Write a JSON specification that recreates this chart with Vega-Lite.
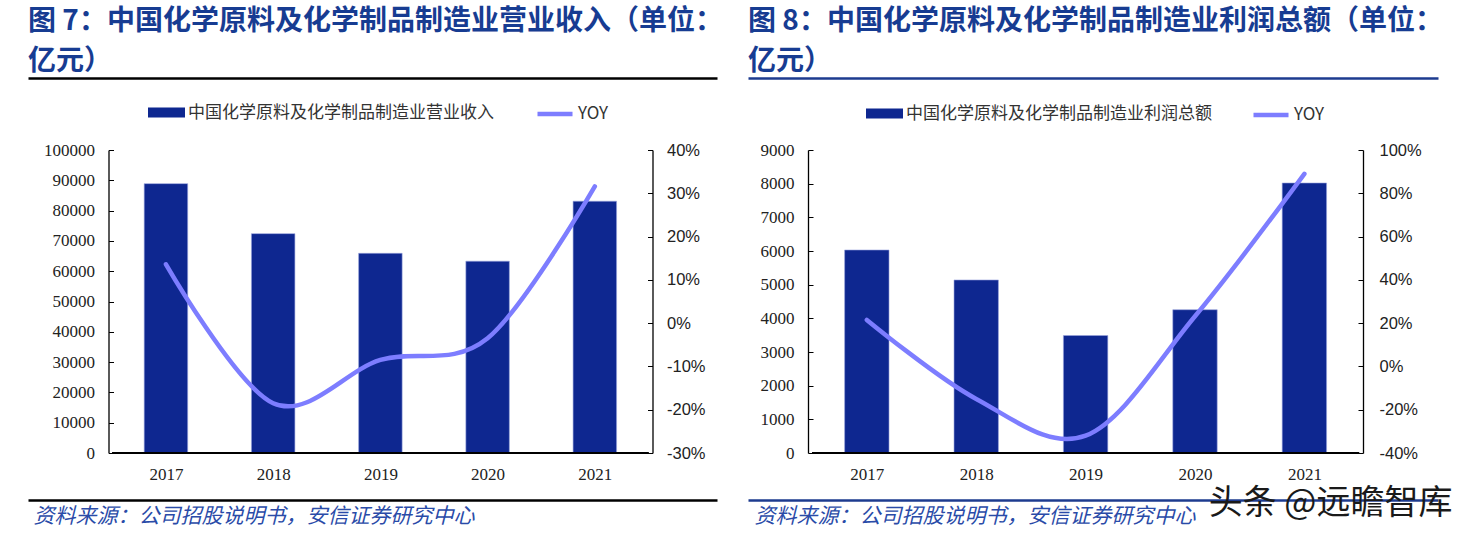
{
  "$schema": "https://vega.github.io/schema/vega-lite/v6.json",
  "background": "white",
  "padding": {"left": 28, "top": 8, "right": 0, "bottom": 0},
  "config": {
    "view": {"stroke": null},
    "axis": {"grid": false, "labelFlush": false, "labelOverlap": false}
  },
  "datasets": {
    "revenue": [
      {"year": 2017, "value": 88900, "yoy": 0.136},
      {"year": 2018, "value": 72400, "yoy": -0.185},
      {"year": 2019, "value": 65900, "yoy": -0.085},
      {"year": 2020, "value": 63300, "yoy": -0.035},
      {"year": 2021, "value": 83100, "yoy": 0.316}
    ],
    "profit": [
      {"year": 2017, "value": 6030, "yoy": 0.215},
      {"year": 2018, "value": 5140, "yoy": -0.15},
      {"year": 2019, "value": 3490, "yoy": -0.32},
      {"year": 2020, "value": 4256, "yoy": 0.232},
      {"year": 2021, "value": 8020, "yoy": 0.89}
    ]
  },
  "bounds": "flush",
  "spacing": 31,
  "resolve": {"scale": {"color": "independent"}, "legend": {"color": "independent"}},
  "hconcat": [
    {
      "width": 689,
      "height": 303,
      "data": {"name": "revenue"},
      "title": {
        "text": ["图 7：中国化学原料及化学制品制造业营业收入（单位：", "亿元）"],
        "anchor": "start", "frame": "group",
        "font": "Noto Sans CJK SC", "fontSize": 28, "fontWeight": "bold",
        "color": "#173C92", "lineHeight": 40, "offset": 2
      },
      "layer": [
        {
          "layer": [
            {
              "mark": {"type": "bar", "width": 43.5, "stroke": "#9AA5DD", "strokeWidth": 0.6},
              "encoding": {
                "x": {"field": "year", "type": "quantitative",
                  "scale": {"domain": [2015.7601, 2022.0928], "nice": false, "zero": false},
                  "axis": {"orient": "bottom", "values": [2017, 2018, 2019, 2020, 2021], "format": "d",
                    "domain": false, "ticks": false, "labelFont": "Liberation Serif", "labelFontSize": 17,
                    "labelColor": "#222", "labelPadding": 13, "labelOverlap": false, "title": null}},
                "y": {"field": "value", "type": "quantitative",
                  "scale": {"domain": [0, 100000], "nice": false},
                  "axis": {"orient": "left", "offset": -80.5,
                    "values": [0, 10000, 20000, 30000, 40000, 50000, 60000, 70000, 80000, 90000, 100000],
                    "format": "d", "domain": true, "domainColor": "#000", "domainWidth": 1.3,
                    "ticks": true, "tickSize": -5, "tickColor": "#000",
                    "labelFont": "Liberation Serif", "labelFontSize": 17, "labelColor": "#222",
                    "labelPadding": 19, "labelOverlap": false, "labelFlush": false, "title": null}},
                "color": {
                  "datum": "中国化学原料及化学制品制造业营业收入",
                  "scale": {"range": ["#0E2790"]},
                  "legend": {
                    "orient": "none", "legendX": 120, "legendY": -56, "direction": "horizontal",
                    "title": null, "labelFont": "Noto Sans CJK SC", "labelFontSize": 17, "labelColor": "#333",
                    "labelLimit": 600, "labelOffset": 3,
                    "symbolSize": 1369, "symbolType": "M-1,-0.27L1,-0.27L1,0.27L-1,0.27Z",
                    "symbolStrokeWidth": 0, "symbolOpacity": 1
                  }
                }
              }
            },
            {
              "mark": {"type": "rule", "color": "#000", "strokeWidth": 1.6},
              "encoding": {
                "x": {"datum": 2016.5, "type": "quantitative",
                  "scale": {"domain": [2015.7601, 2022.0928], "nice": false, "zero": false},
                  "axis": {"orient": "bottom", "values": [2017, 2018, 2019, 2020, 2021], "format": "d",
                    "domain": false, "ticks": false, "labelFont": "Liberation Serif", "labelFontSize": 17,
                    "labelColor": "#222", "labelPadding": 13, "labelOverlap": false, "title": null}},
                "x2": {"datum": 2021.5},
                "y": {"datum": 0, "type": "quantitative",
                  "scale": {"domain": [0, 100000], "nice": false},
                  "axis": {"orient": "left", "offset": -80.5,
                    "values": [0, 10000, 20000, 30000, 40000, 50000, 60000, 70000, 80000, 90000, 100000],
                    "format": "d", "domain": true, "domainColor": "#000", "domainWidth": 1.3,
                    "ticks": true, "tickSize": -5, "tickColor": "#000",
                    "labelFont": "Liberation Serif", "labelFontSize": 17, "labelColor": "#222",
                    "labelPadding": 19, "labelOverlap": false, "labelFlush": false, "title": null}}
              }
            }
          ]
        },
        {
          "mark": {"type": "line", "interpolate": "cardinal", "strokeWidth": 4.5, "strokeCap": "round"},
          "encoding": {
            "x": {"field": "year", "type": "quantitative", "scale": {"domain": [2015.7601, 2022.0928], "nice": false, "zero": false}, "axis": null},
            "y": {"field": "yoy", "type": "quantitative",
              "scale": {"domain": [-0.3, 0.4], "nice": false, "zero": false},
              "axis": {"orient": "right", "offset": -64.5,
                "values": [-0.3, -0.2, -0.1, 0, 0.1, 0.2, 0.3, 0.4], "format": ".0%",
                "labelExpr": "replace(datum.label, '−', '-')",
                "domain": true, "domainColor": "#000", "domainWidth": 1.3,
                "ticks": true, "tickSize": -5, "tickColor": "#000",
                "labelFont": "Liberation Sans", "labelFontSize": 16.5, "labelColor": "#222",
                "labelPadding": 19, "labelOverlap": false, "labelFlush": false, "title": null}},
            "color": {
              "datum": "YOY",
              "scale": {"range": ["#7D7DFF"]},
              "legend": {
                "orient": "none", "legendX": 507, "legendY": -56, "direction": "horizontal",
                "title": null, "labelFont": "Noto Sans CJK SC", "labelFontSize": 17, "labelColor": "#333",
                "labelLimit": 600, "labelOffset": 3,
                "symbolSize": 1225, "symbolType": "stroke", "symbolStrokeWidth": 4.5, "symbolOpacity": 1
              }
            }
          }
        },
        {
          "mark": {"type": "point", "opacity": 0},
          "encoding": {
            "x": {"datum": 2017, "type": "quantitative", "scale": {"domain": [2015.7601, 2022.0928], "nice": false, "zero": false},
              "axis": {"orient": "top", "offset": 72, "domain": true, "domainColor": "#000", "domainWidth": 2.7,
                "ticks": false, "labels": false, "title": null}}
          }
        },
        {
          "mark": {"type": "point", "opacity": 0},
          "encoding": {
            "x": {"datum": 2017, "type": "quantitative", "scale": {"domain": [2015.7601, 2022.0928], "nice": false, "zero": false},
              "axis": {"orient": "bottom", "offset": 47, "domain": true, "domainColor": "#000", "domainWidth": 2.7,
                "ticks": false, "labels": false,
                "title": "资料来源：公司招股说明书，安信证券研究中心",
                "titleAnchor": "start", "titleAlign": "left", "titleX": 5,
                "titleFont": "Noto Sans CJK SC", "titleFontStyle": "italic", "titleFontWeight": "normal",
                "titleFontSize": 21, "titleColor": "#2A4BA8", "titlePadding": 5, "titleLimit": 700}}
          }
        }
      ],
      "resolve": {
        "scale": {"y": "independent", "color": "independent"},
        "legend": {"color": "independent"},
        "axis": {"x": "independent", "y": "independent"}
      }
    },
    {
      "width": 690,
      "height": 303,
      "data": {"name": "profit"},
      "title": {
        "text": ["图 8：中国化学原料及化学制品制造业利润总额（单位：", "亿元）"],
        "anchor": "start", "frame": "group",
        "font": "Noto Sans CJK SC", "fontSize": 28, "fontWeight": "bold",
        "color": "#173C92", "lineHeight": 40, "offset": 2
      },
      "layer": [
        {
          "layer": [
            {
              "mark": {"type": "bar", "width": 44.4, "stroke": "#9AA5DD", "strokeWidth": 0.6},
              "encoding": {
                "x": {"field": "year", "type": "quantitative",
                  "scale": {"domain": [2015.9595, 2022.1757], "nice": false, "zero": false},
                  "axis": {"orient": "bottom", "values": [2017, 2018, 2019, 2020, 2021], "format": "d",
                    "domain": false, "ticks": false, "labelFont": "Liberation Serif", "labelFontSize": 17,
                    "labelColor": "#222", "labelPadding": 13, "labelOverlap": false, "title": null}},
                "y": {"field": "value", "type": "quantitative",
                  "scale": {"domain": [0, 9000], "nice": false},
                  "axis": {"orient": "left", "offset": -60,
                    "values": [0, 1000, 2000, 3000, 4000, 5000, 6000, 7000, 8000, 9000],
                    "format": "d", "domain": true, "domainColor": "#000", "domainWidth": 1.3,
                    "ticks": true, "tickSize": -5, "tickColor": "#000",
                    "labelFont": "Liberation Serif", "labelFontSize": 17, "labelColor": "#222",
                    "labelPadding": 19, "labelOverlap": false, "labelFlush": false, "title": null}},
                "color": {
                  "datum": "中国化学原料及化学制品制造业利润总额",
                  "scale": {"range": ["#0E2790"]},
                  "legend": {
                    "orient": "none", "legendX": 118, "legendY": -55, "direction": "horizontal",
                    "title": null, "labelFont": "Noto Sans CJK SC", "labelFontSize": 17, "labelColor": "#333",
                    "labelLimit": 600, "labelOffset": 3,
                    "symbolSize": 1369, "symbolType": "M-1,-0.27L1,-0.27L1,0.27L-1,0.27Z",
                    "symbolStrokeWidth": 0, "symbolOpacity": 1
                  }
                }
              }
            },
            {
              "mark": {"type": "rule", "color": "#000", "strokeWidth": 1.6},
              "encoding": {
                "x": {"datum": 2016.5, "type": "quantitative",
                  "scale": {"domain": [2015.9595, 2022.1757], "nice": false, "zero": false},
                  "axis": {"orient": "bottom", "values": [2017, 2018, 2019, 2020, 2021], "format": "d",
                    "domain": false, "ticks": false, "labelFont": "Liberation Serif", "labelFontSize": 17,
                    "labelColor": "#222", "labelPadding": 13, "labelOverlap": false, "title": null}},
                "x2": {"datum": 2021.5},
                "y": {"datum": 0, "type": "quantitative",
                  "scale": {"domain": [0, 9000], "nice": false},
                  "axis": {"orient": "left", "offset": -60,
                    "values": [0, 1000, 2000, 3000, 4000, 5000, 6000, 7000, 8000, 9000],
                    "format": "d", "domain": true, "domainColor": "#000", "domainWidth": 1.3,
                    "ticks": true, "tickSize": -5, "tickColor": "#000",
                    "labelFont": "Liberation Serif", "labelFontSize": 17, "labelColor": "#222",
                    "labelPadding": 19, "labelOverlap": false, "labelFlush": false, "title": null}}
              }
            }
          ]
        },
        {
          "mark": {"type": "line", "interpolate": "cardinal", "strokeWidth": 4.5, "strokeCap": "round"},
          "encoding": {
            "x": {"field": "year", "type": "quantitative", "scale": {"domain": [2015.9595, 2022.1757], "nice": false, "zero": false}, "axis": null},
            "y": {"field": "yoy", "type": "quantitative",
              "scale": {"domain": [-0.4, 1.0], "nice": false, "zero": false},
              "axis": {"orient": "right", "offset": -75,
                "values": [-0.4, -0.2, 0, 0.2, 0.4, 0.6, 0.8, 1.0], "format": ".0%",
                "labelExpr": "replace(datum.label, '−', '-')",
                "domain": true, "domainColor": "#000", "domainWidth": 1.3,
                "ticks": true, "tickSize": -5, "tickColor": "#000",
                "labelFont": "Liberation Sans", "labelFontSize": 16.5, "labelColor": "#222",
                "labelPadding": 21, "labelOverlap": false, "labelFlush": false, "title": null}},
            "color": {
              "datum": "YOY",
              "scale": {"range": ["#7D7DFF"]},
              "legend": {
                "orient": "none", "legendX": 503, "legendY": -55, "direction": "horizontal",
                "title": null, "labelFont": "Noto Sans CJK SC", "labelFontSize": 17, "labelColor": "#333",
                "labelLimit": 600, "labelOffset": 3,
                "symbolSize": 1225, "symbolType": "stroke", "symbolStrokeWidth": 4.5, "symbolOpacity": 1
              }
            }
          }
        },
        {
          "mark": {"type": "point", "opacity": 0},
          "encoding": {
            "x": {"datum": 2017, "type": "quantitative", "scale": {"domain": [2015.9595, 2022.1757], "nice": false, "zero": false},
              "axis": {"orient": "top", "offset": 72, "domain": true, "domainColor": "#1D3B8F", "domainWidth": 2.4,
                "ticks": false, "labels": false, "title": null}}
          }
        },
        {
          "mark": {"type": "point", "opacity": 0},
          "encoding": {
            "x": {"datum": 2017, "type": "quantitative", "scale": {"domain": [2015.9595, 2022.1757], "nice": false, "zero": false},
              "axis": {"orient": "bottom", "offset": 47, "domain": true, "domainColor": "#1D3B8F", "domainWidth": 2.4,
                "ticks": false, "labels": false,
                "title": "资料来源：公司招股说明书，安信证券研究中心",
                "titleAnchor": "start", "titleAlign": "left", "titleX": 6,
                "titleFont": "Noto Sans CJK SC", "titleFontStyle": "italic", "titleFontWeight": "normal",
                "titleFontSize": 21, "titleColor": "#2A4BA8", "titlePadding": 5, "titleLimit": 700}}
          }
        },
        {
          "mark": {"type": "point", "opacity": 0},
          "encoding": {
            "x": {"datum": 2017, "type": "quantitative", "scale": {"domain": [2015.9595, 2022.1757], "nice": false, "zero": false},
              "axis": {"orient": "bottom", "offset": 47, "domain": false, "ticks": false, "labels": false,
                "title": "头条 @远瞻智库",
                "titleAnchor": "end", "titleAlign": "right", "titleX": 704, "titleBaseline": "middle",
                "titleFont": "Noto Sans CJK SC", "titleFontWeight": "normal",
                "titleFontSize": 34, "titleColor": "#1A1A1A", "titlePadding": 3, "titleLimit": 700}}
          }
        }
      ],
      "resolve": {
        "scale": {"y": "independent", "color": "independent"},
        "legend": {"color": "independent"},
        "axis": {"x": "independent", "y": "independent"}
      }
    }
  ]
}
